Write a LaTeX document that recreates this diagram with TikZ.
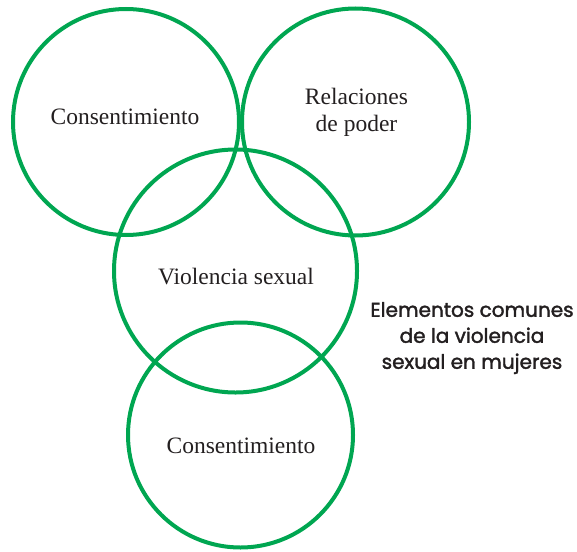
\documentclass[tikz,border=0pt]{standalone}
\usepackage{fontspec}
\setmainfont{Liberation Serif}
\newfontfamily\titlefont{Poppins}[FakeBold=1.8]
\definecolor{ringgreen}{HTML}{00A651}
\definecolor{inkgray}{HTML}{231F20}

\begin{document}
\begin{tikzpicture}[x=1pt, y=-1pt,
		ring/.style={draw=ringgreen, line width=4pt},
		word/.style={text=inkgray, font=\fontsize{23.5}{27}\selectfont, align=center, inner sep=0pt}]
		\useasboundingbox (0,0) rectangle (577,551);
		\begin{scope}
			% the four circles
			\draw[ring] (126,122) circle (113);
			\draw[ring] (355.5,122) circle (113.5);
			\draw[ring] (235.5,271) circle (121.5);
			\draw[ring] (240.5,435) circle (112.5);

			\node[word, anchor=base] (consA) at (125,124) {Consentimiento};
			\node[word, anchor=center] (poder) at (356.5,112) {Relaciones\\de poder};
			\node[word, anchor=base] (violencia) at (236,284) {Violencia sexual};
			\node[word, anchor=base] (consB) at (241,453) {Consentimiento};

			\node[text=inkgray, font=\titlefont\fontsize{20}{26}\selectfont, align=center, inner sep=0pt] (titulo) at (472,338)
				{Elementos comunes\\de la violencia\\sexual en mujeres};
		\end{scope}
\end{tikzpicture}
\end{document}
